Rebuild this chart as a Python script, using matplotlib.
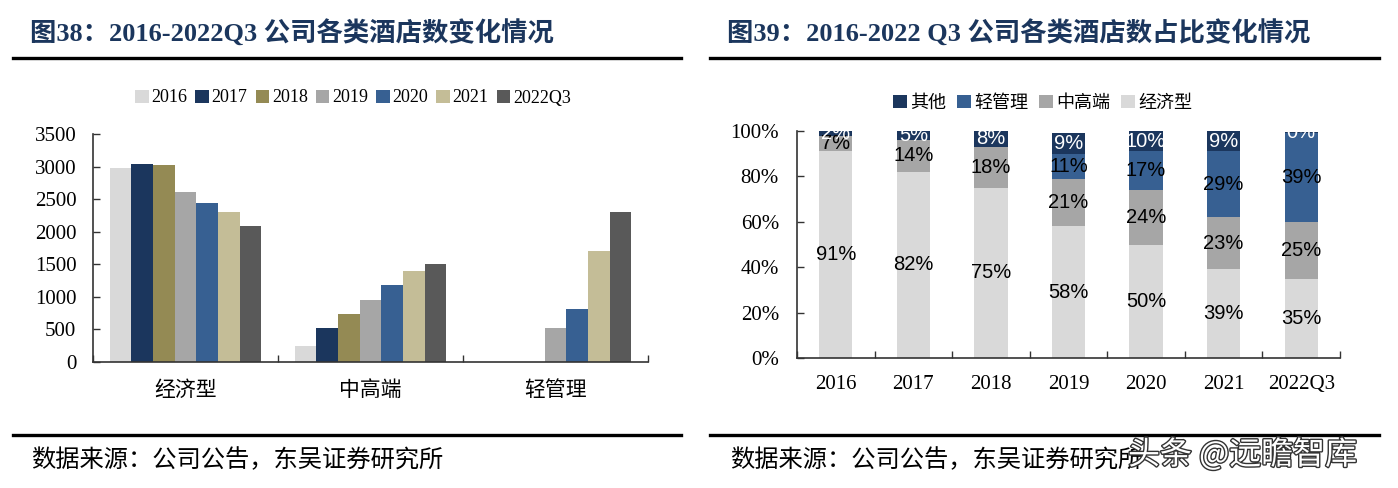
import matplotlib
matplotlib.use("Agg")
import matplotlib.pyplot as plt
import matplotlib.patheffects as pe
from matplotlib.patches import Patch
import numpy as np

# ---------------- data ----------------
years = ["2016", "2017", "2018", "2019", "2020", "2021", "2022Q3"]
types = ["经济型", "中高端", "轻管理"]
economy_cnt = [2972, 3044, 3029, 2605, 2436, 2298, 2084]
midhigh_cnt = [250, 516, 730, 955, 1180, 1394, 1507]
light_cnt = [0, 0, 0, 521, 817, 1706, 2298]

share_economy = [91, 82, 75, 58, 50, 39, 35]
share_midhigh = [7, 14, 18, 21, 24, 23, 25]
share_light = [0, 0, 0, 11, 17, 29, 39]
share_other = [2, 5, 8, 9, 10, 9, 0.4]

year_colors = ["#D9D9D9", "#1B365D", "#948A54", "#A6A6A6", "#376092", "#C4BD97", "#595959"]
c_other, c_light, c_mid, c_eco = "#1B365D", "#376092", "#A6A6A6", "#D9D9D9"

SERIF = ["Liberation Serif", "Noto Sans CJK SC"]
SANS = ["Liberation Sans", "Noto Sans CJK SC"]
CJK = ["Noto Sans CJK SC", "Liberation Serif"]
TITLE_COLOR = "#1B365D"

fig = plt.figure(figsize=(13.98, 4.88), dpi=100)

# ---------------- headers / footers ----------------
fig.text(30 / 1398, 1 - 33 / 488, "图38：2016-2022Q3 公司各类酒店数变化情况", family=SERIF,
         fontweight="bold", fontsize=19, color=TITLE_COLOR, va="center", ha="left")
fig.text(727 / 1398, 1 - 33 / 488, "图39：2016-2022 Q3 公司各类酒店数占比变化情况", family=SERIF,
         fontweight="bold", fontsize=19, color=TITLE_COLOR, va="center", ha="left")
for (x0, x1) in [(13, 681), (710, 1379)]:
    for yy in (58, 435):
        fig.add_artist(plt.Line2D([x0 / 1398, x1 / 1398], [1 - yy / 488, 1 - yy / 488],
                                  color="black", lw=2.4, transform=fig.transFigure))
fig.text(31 / 1398, 1 - 460 / 488, "数据来源：公司公告，东吴证券研究所", family=CJK,
         fontsize=17.5, color="black", va="center", ha="left")
fig.text(730 / 1398, 1 - 460 / 488, "数据来源：公司公告，东吴证券研究所", family=CJK,
         fontsize=17.5, color="black", va="center", ha="left")
fig.text(1128 / 1398, 1 - 455 / 488, "头条 @远瞻智库", family=["Noto Sans CJK SC", "DejaVu Sans"],
         fontsize=23, color="white", va="center", ha="left", zorder=10,
         path_effects=[pe.withStroke(linewidth=2, foreground="#333333")])

# ---------------- left chart ----------------
ax1 = fig.add_axes([93 / 1398, 126 / 488, (648 - 93) / 1398, (362 - 134) / 488])
n = len(years)
bw = 0.117
x = np.arange(len(types)) + 0.5
data_by_year = np.array([economy_cnt, midhigh_cnt, light_cnt]).T
for i, (yr, col) in enumerate(zip(years, year_colors)):
    offs = (i - (n - 1) / 2) * bw
    ax1.bar(x + offs, data_by_year[i], width=bw, color=col, label=yr, zorder=2)
ax1.set_xlim(0, len(types))
ax1.set_ylim(0, 3500)
ax1.set_yticks(np.arange(0, 3501, 500))
ax1.set_xticks(np.arange(0, len(types) + 1))
ax1.set_xticklabels([])
ax1.set_xticks(x, minor=True)
ax1.set_xticklabels(types, minor=True, family=CJK, fontsize=15)
ax1.tick_params(axis="x", which="minor", length=0, pad=12)
ax1.tick_params(axis="x", which="major", direction="in", length=5, width=1, color="#333333")
ax1.tick_params(axis="y", direction="in", length=5, width=1, color="#333333", pad=12)
for lab in ax1.get_yticklabels():
    lab.set_family(SERIF)
    lab.set_fontsize(15)
for s in ["top", "right"]:
    ax1.spines[s].set_visible(False)
for s in ["left", "bottom"]:
    ax1.spines[s].set_color("#333333")
    ax1.spines[s].set_linewidth(1.2)
handles1 = [Patch(facecolor=c, label=y) for y, c in zip(years, year_colors)]
fig.legend(handles=handles1, loc="center", bbox_to_anchor=(353 / 1398, 1 - 98 / 488), ncol=7,
           frameon=False, prop={"family": SERIF, "size": 13}, handlelength=0.75, handleheight=0.75,
           handletextpad=0.15, columnspacing=0.45, borderpad=0)

# ---------------- right chart ----------------
ax2 = fig.add_axes([797 / 1398, 130 / 488, (1340 - 797) / 1398, (358 - 131) / 488])
xr = np.arange(n) + 0.5
bw2 = 0.43
layers = [("经济型", share_economy, c_eco, "black"),
          ("中高端", share_midhigh, c_mid, "black"),
          ("轻管理", share_light, c_light, "black"),
          ("其他", share_other, c_other, "white")]
bottom = np.zeros(n)
for name, vals, col, tcol in layers:
    vals = np.array(vals, dtype=float)
    ax2.bar(xr, vals, width=bw2, bottom=bottom, color=col, label=name, zorder=2)
    for xi, b, v in zip(xr, bottom, vals):
        if v <= 0:
            continue
        lo, hi = min(b, 100), min(b + v, 100)
        ax2.text(xi, (lo + hi) / 2, f"{v:.0f}%", ha="center", va="center", color=tcol,
                 family=SANS, fontsize=14.5, zorder=3, clip_on=True)
    bottom = bottom + vals
ax2.set_xlim(0, n)
ax2.set_ylim(0, 100)
ax2.set_yticks(np.arange(0, 101, 20))
ax2.set_yticklabels([f"{v}%" for v in range(0, 101, 20)])
ax2.set_xticks(np.arange(0, n + 1))
ax2.set_xticklabels([])
ax2.set_xticks(xr, minor=True)
ax2.set_xticklabels(years, minor=True, family=SERIF, fontsize=15)
ax2.tick_params(axis="x", which="minor", length=0, pad=12)
ax2.tick_params(axis="x", which="major", direction="in", length=5, width=1, color="#333333")
ax2.tick_params(axis="y", direction="in", length=5, width=1, color="#333333", pad=13)
for lab in ax2.get_yticklabels():
    lab.set_family(SERIF)
    lab.set_fontsize(15)
for s in ["top", "right"]:
    ax2.spines[s].set_visible(False)
for s in ["left", "bottom"]:
    ax2.spines[s].set_color("#333333")
    ax2.spines[s].set_linewidth(1.2)
handles2 = [Patch(facecolor=c_other, label="其他"), Patch(facecolor=c_light, label="轻管理"),
            Patch(facecolor=c_mid, label="中高端"), Patch(facecolor=c_eco, label="经济型")]
fig.legend(handles=handles2, loc="center", bbox_to_anchor=(1043 / 1398, 1 - 103 / 488), ncol=4,
           frameon=False, prop={"family": CJK, "size": 13}, handlelength=0.75, handleheight=0.75,
           handletextpad=0.2, columnspacing=0.6, borderpad=0)

fig.savefig("out.png", dpi=100)
